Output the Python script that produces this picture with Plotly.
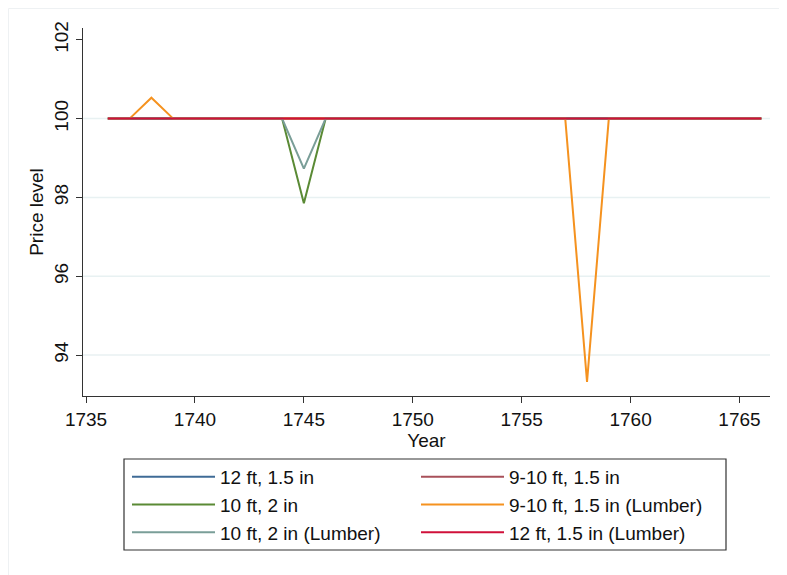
import plotly.graph_objects as go

years = list(range(1736, 1767))

def series(changes):
    return [changes.get(y, 100.0) for y in years]

names = ["12 ft, 1.5 in", "9-10 ft, 1.5 in", "10 ft, 2 in",
         "9-10 ft, 1.5 in (Lumber)", "10 ft, 2 in (Lumber)", "12 ft, 1.5 in (Lumber)"]
vals_12ft = series({})
vals_910ft = series({})
vals_10ft2in = series({1745: 97.85})
vals_910_lumber = series({1738: 100.53, 1758: 93.32})
vals_10ft2in_lumber = series({1745: 98.73})
vals_12ft_lumber = series({})
colors = ["#3f6b96", "#a8505a", "#5a8a35", "#f5921f", "#7a9e98", "#d0103a"]
legend_col = ["legend", "legend2", "legend", "legend2", "legend", "legend2"]

y_ticks = [94, 96, 98, 100, 102]
x_ticks = [1735, 1740, 1745, 1750, 1755, 1760, 1765]

all_vals = [vals_12ft, vals_910ft, vals_10ft2in, vals_910_lumber, vals_10ft2in_lumber, vals_12ft_lumber]

fig = go.Figure()
for n, v, c, lg in zip(names, all_vals, colors, legend_col):
    fig.add_trace(go.Scatter(x=years, y=v, mode="lines", name=n, legend=lg,
                             line=dict(color=c, width=2)))

font = "Liberation Sans, Arial, Helvetica, sans-serif"

W, H = 779, 567
L, R, T, B = 75, 17, 20, 179
pw, ph = W - L - R, H - T - B

def px_x(x):
    return (x - L) / pw

def px_y(y):
    return (T + ph - y) / ph

shapes = []
for yt in y_ticks[:-1]:
    shapes.append(dict(type="line", xref="paper", x0=0, x1=1, yref="y", y0=yt, y1=yt,
                       line=dict(color="#e8f1f2", width=1.5), layer="below"))
# faint graph region border
shapes.append(dict(type="rect", xref="paper", yref="paper",
                   x0=px_x(0.5), x1=px_x(W + 20), y0=px_y(H + 20), y1=px_y(0.5),
                   line=dict(color="#eef1f3", width=1), layer="below"))
# legend box
shapes.append(dict(type="rect", xref="paper", yref="paper",
                   x0=px_x(116), x1=px_x(718), y0=px_y(542), y1=px_y(451),
                   line=dict(color="#333", width=1.2), fillcolor="rgba(0,0,0,0)"))

leg_common = dict(orientation="v", yanchor="top", xanchor="left",
                  borderwidth=0, bgcolor="rgba(0,0,0,0)", itemwidth=83,
                  font=dict(size=19), traceorder="normal", tracegroupgap=0)

fig.update_layout(
    width=W, height=H,
    margin=dict(l=L, r=R, t=T, b=B, autoexpand=False),
    paper_bgcolor="white", plot_bgcolor="white",
    font=dict(family=font, size=19, color="#111"),
    xaxis=dict(range=[1734.86, 1766.4], tickvals=x_ticks, showgrid=False,
               showline=True, linecolor="#333", linewidth=1.2,
               ticks="outside", ticklen=6, tickcolor="#333",
               title=dict(text="Year", standoff=2, font=dict(size=19)),
               tickfont=dict(size=19), zeroline=False, automargin=False),
    yaxis=dict(range=[92.96, 102.3], tickvals=y_ticks, showgrid=False,
               showline=True, linecolor="#333", linewidth=1.2,
               ticks="outside", ticklen=6, tickcolor="#333", tickangle=-90,
               title=dict(text="Price level", standoff=2, font=dict(size=19)),
               tickfont=dict(size=19), zeroline=False, automargin=False),
    shapes=shapes,
    legend=dict(x=px_x(119), y=px_y(450), **leg_common),
    legend2=dict(x=px_x(408), y=px_y(450), **leg_common),
    showlegend=True,
)

fig.write_html("out.html")
